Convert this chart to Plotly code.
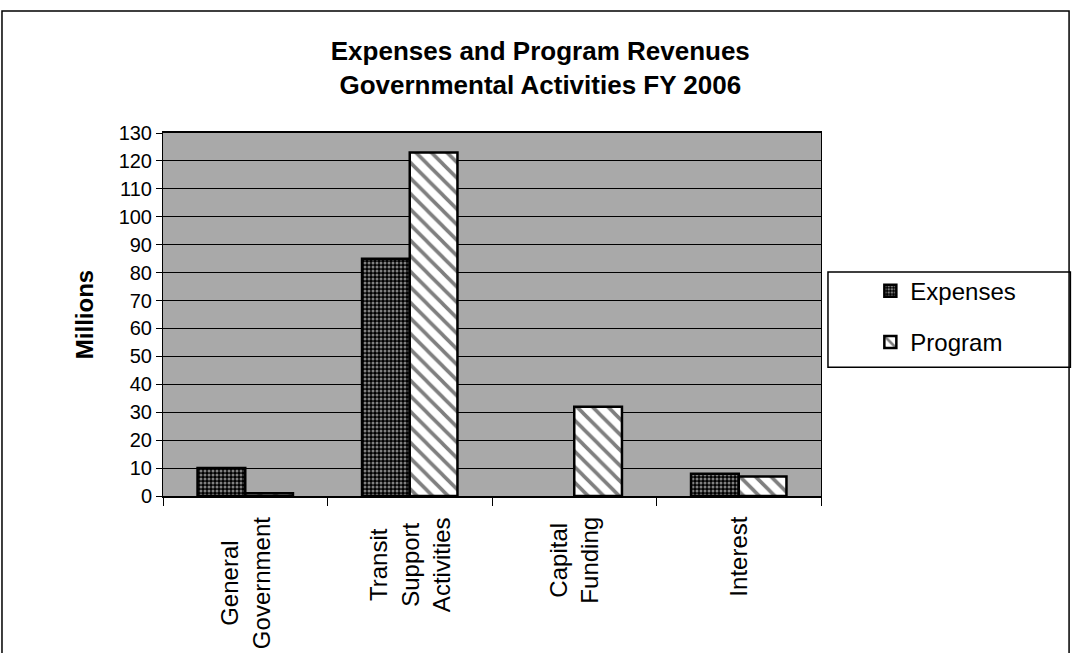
import plotly.graph_objects as go

categories = ["General Government", "Transit Support Activities", "Capital Funding", "Interest"]
category_labels = ["General<br>Government", "Transit<br>Support<br>Activities", "Capital<br>Funding", "Interest"]
expenses = [10, 85, 0, 8]
program = [1, 123, 32, 7]
y_ticks = list(range(0, 131, 10))

FONT = "Liberation Sans, Arial, sans-serif"


def outline_widths(values, width=2.5):
    # no outline on empty bars so a zero value leaves no stub on the axis
    return [width if v else 0 for v in values]


fig = go.Figure()
fig.add_trace(go.Bar(
    name="Expenses", x=categories, y=expenses, legendgroup="a",
    marker=dict(color="black", line=dict(color="black", width=outline_widths(expenses)),
                pattern=dict(shape=".", fgcolor="white", bgcolor="black", size=4, solidity=0.45)),
))
fig.add_trace(go.Bar(
    name="Program", x=categories, y=program, legendgroup="b",
    marker=dict(color="white", line=dict(color="black", width=outline_widths(program)),
                pattern=dict(shape="\\", fgcolor="black", bgcolor="white", size=11, solidity=0.33)),
))

fig.update_layout(
    width=1072, height=653,
    margin=dict(l=163, r=251, t=133, b=157),
    paper_bgcolor="white", plot_bgcolor="#a9a9a9",
    font=dict(family=FONT, color="black", size=20),
    barmode="group", bargap=0.42, bargroupgap=0,
    title=dict(text="<b>Expenses and Program Revenues<br>Governmental Activities FY 2006</b>",
               x=0.504, xanchor="center", y=0.908, yanchor="middle",
               font=dict(size=26, family=FONT)),
    legend=dict(x=1.075, xanchor="left", y=0.626, yanchor="top",
                borderwidth=0, bgcolor="rgba(0,0,0,0)",
                font=dict(size=24, family=FONT), itemwidth=30,
                tracegroupgap=17),
    showlegend=True,
)
fig.update_yaxes(
    range=[0, 130], tickvals=y_ticks, ticks="outside", ticklen=6, tickcolor="black",
    showgrid=True, gridcolor="black", gridwidth=1,
    showline=True, linecolor="black", linewidth=1, mirror=True,
    tickfont=dict(size=20), zeroline=False,
    title=dict(text="<b>Millions</b>", font=dict(size=24), standoff=18),
)
fig.update_xaxes(
    ticks="outside", ticklen=8, tickcolor="black", tickson="boundaries",
    showticklabels=False,
    showline=True, linecolor="black", linewidth=1.5, mirror=True,
)

# category names, rotated and centred line by line under each group
for cat, label in zip(categories, category_labels):
    fig.add_annotation(x=cat, xref="x", y=-0.052, yref="paper",
                       text=label, textangle=-90, showarrow=False,
                       xanchor="center", yanchor="top", align="center",
                       font=dict(size=24, family=FONT))

# legend frame
fig.add_shape(type="rect", xref="paper", yref="paper",
              x0=1.0106, x1=1.379, y0=0.355, y1=0.617,
              line=dict(color="black", width=1.5), fillcolor="white", layer="below")
# outer frame around the chart
fig.add_shape(type="rect", xref="paper", yref="paper",
              x0=-0.2447, x1=1.377, y0=-0.5, y1=1.336,
              line=dict(color="black", width=1.5), layer="below")

fig.write_html("out.html")
